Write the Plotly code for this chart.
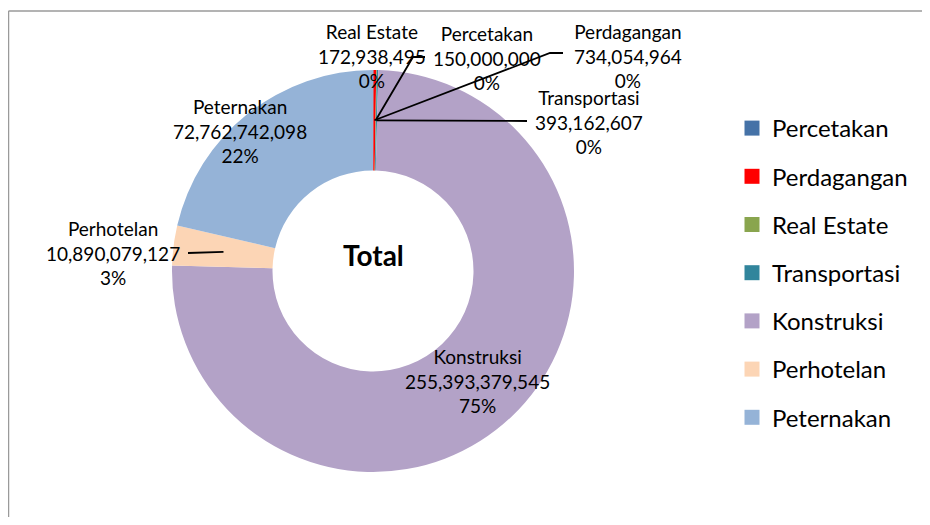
import math
import plotly.graph_objects as go

# ---------------- data ----------------
categories = ["Percetakan", "Perdagangan", "Real Estate", "Transportasi",
              "Konstruksi", "Perhotelan", "Peternakan"]
values = [150000000, 734054964, 172938495, 393162607,
          255393379545, 10890079127, 72762742098]
colors = ["#4572A7", "#FF0000", "#89A54E", "#31859C",
          "#B3A2C7", "#FCD5B5", "#95B3D7"]
title_text = "Total"

# ---------------- layout helpers ----------------
OFF = 8                              # page body margin
W, H = 930 - 2 * OFF, 525 - 2 * OFF  # figure size (no scrollbars)
CX, CY, R = 373, 271, 201            # page pixels
HOLE = 0.5
FONT = "Lato, 'Open Sans', sans-serif"


def px(x):
    return (x - OFF) / W


def py(y):
    return 1 - (y - OFF) / H


# label text block centres (page pixels)
label_pos = {
    "Percetakan": (487, 58),
    "Perdagangan": (628, 56),
    "Real Estate": (372, 56),
    "Transportasi": (589, 122),
    "Konstruksi": (477, 381),
    "Perhotelan": (113, 253),
    "Peternakan": (240, 131),
}
# leader line vertices on the label side (page pixels)
leader_pts = {
    "Real Estate": [(413, 57), (425, 57)],
    "Perdagangan": [(550, 53), (563, 53)],
    "Transportasi": [(527, 121)],
    "Perhotelan": [(188, 253)],
}

total = sum(values)

# percentages rounded so that they add up to 100 (largest remainder)
raw = [100 * v / total for v in values]
pct = [math.floor(r) for r in raw]
order = sorted(range(len(raw)), key=lambda i: raw[i] - pct[i], reverse=True)
for i in order[:100 - sum(pct)]:
    pct[i] += 1

fig = go.Figure()
fig.add_trace(go.Pie(
    labels=categories, values=values, hole=HOLE, sort=False,
    direction="clockwise", rotation=0,
    marker=dict(colors=colors, line=dict(width=0)),
    textinfo="none", showlegend=False,
    domain=dict(x=[px(CX - R), px(CX + R)], y=[py(CY + R), py(CY - R)]),
))

# legend via dummy traces (one group each so spacing can be set)
for name, col in zip(categories, colors):
    fig.add_trace(go.Scatter(
        x=[None], y=[None], mode="markers", name=name, legendgroup=name,
        marker=dict(symbol="square", size=15, color=col),
    ))

annotations = []
shapes = []
cum = 0
rmid = R * (1 + HOLE) / 2
for name, v, p in zip(categories, values, pct):
    frac_mid = (cum + v / 2) / total
    cum += v
    th = 2 * math.pi * frac_mid
    sx = CX + rmid * math.sin(th)
    sy = CY - rmid * math.cos(th)
    lx, ly = label_pos[name]
    annotations.append(dict(
        x=px(lx), y=py(ly), xref="paper", yref="paper",
        text=f"{name}<br>{v:,}<br>{p}%",
        showarrow=False, xanchor="center", yanchor="middle", align="center",
        font=dict(family=FONT, size=19, color="#000000"),
    ))
    if name in leader_pts:
        pts = [(sx, sy)] + leader_pts[name]
        path = "M " + " L ".join(f"{px(a)},{py(b)}" for a, b in pts)
        shapes.append(dict(type="path", xref="paper", yref="paper", path=path,
                           line=dict(color="#000000", width=1.8)))

annotations.append(dict(
    x=px(CX), y=py(255), xref="paper", yref="paper",
    text=f"<b>{title_text}</b>", showarrow=False,
    xanchor="center", yanchor="middle",
    font=dict(family=FONT, size=28, color="#000000"),
))

# chart frame: only top and left sides are inside the picture
frame = dict(color="#9a9a9a", width=1.5)
shapes.insert(0, dict(type="line", xref="paper", yref="paper",
                      x0=px(8.5), x1=1, y0=py(11), y1=py(11),
                      line=frame, layer="below"))
shapes.insert(0, dict(type="line", xref="paper", yref="paper",
                      x0=px(8.5), x1=px(8.5), y0=0, y1=py(11),
                      line=frame, layer="below"))

fig.update_layout(
    width=W, height=H,
    margin=dict(l=0, r=0, t=0, b=0),
    paper_bgcolor="white", plot_bgcolor="white",
    xaxis=dict(visible=False), yaxis=dict(visible=False),
    showlegend=True,
    legend=dict(x=px(732), y=py(106), xanchor="left", yanchor="top",
                font=dict(family=FONT, size=24, color="#000000"),
                tracegroupgap=14, itemclick=False, itemdoubleclick=False,
                bgcolor="rgba(0,0,0,0)"),
    annotations=annotations,
    shapes=shapes,
)

fig.write_html("out.html")
